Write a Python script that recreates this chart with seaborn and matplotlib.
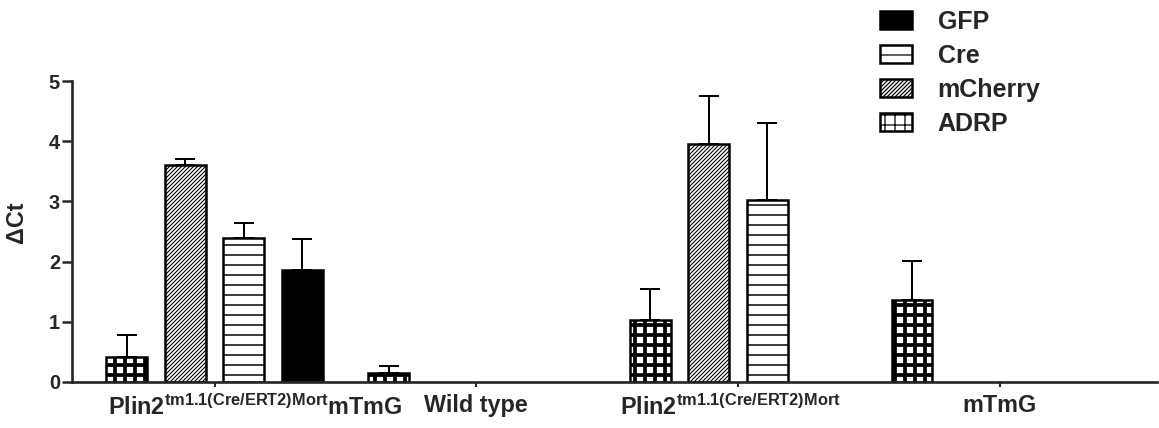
import numpy as np
import pandas as pd
import matplotlib
matplotlib.use("Agg")
import matplotlib.pyplot as plt
import matplotlib.transforms as mtransforms
import seaborn as sns

# categories on the x axis (two transgenic lines, wild type and reporter alone)
categories = [
    r"$\mathrm{Plin2}^{\mathrm{tm1.1(Cre/ERT2)Mort}}\mathrm{mTmG}$",
    "Wild type",
    r"$\mathrm{Plin2}^{\mathrm{tm1.1(Cre/ERT2)Mort}}$",
    "mTmG",
]
genes = ["ADRP", "mCherry", "Cre", "GFP"]
legend_order = ["GFP", "Cre", "mCherry", "ADRP"]

# delta Ct, mean and upper error (NaN = not measured)
adrp_mean = [0.42, 0.15, 1.03, 1.36]
adrp_err = [0.36, 0.11, 0.51, 0.65]
mcherry_mean = [3.60, np.nan, 3.95, np.nan]
mcherry_err = [0.10, np.nan, 0.80, np.nan]
cre_mean = [2.40, np.nan, 3.02, np.nan]
cre_err = [0.24, np.nan, 1.28, np.nan]
gfp_mean = [1.86, np.nan, np.nan, np.nan]
gfp_err = [0.52, np.nan, np.nan, np.nan]

palette = {"ADRP": "white", "mCherry": "white", "Cre": "white", "GFP": "black"}
hatches = {"ADRP": "+", "mCherry": "/////", "Cre": "-", "GFP": ""}
hatch_lw = {"ADRP": 4.5, "mCherry": 1.3, "Cre": 1.8, "GFP": 1.0}


def build_frame():
    rows = []
    series = zip(genes,
                 [adrp_mean, mcherry_mean, cre_mean, gfp_mean],
                 [adrp_err, mcherry_err, cre_err, gfp_err])
    for gene, means, errs in series:
        for cat, m, e in zip(categories, means, errs):
            rows.append({"group": cat, "gene": gene, "value": m, "err": e})
    return pd.DataFrame(rows).dropna().reset_index(drop=True)


def main():
    sns.set_style("ticks")
    plt.rcParams["font.family"] = ["Liberation Sans", "DejaVu Sans"]
    plt.rcParams["font.weight"] = "bold"
    plt.rcParams["axes.labelweight"] = "bold"
    plt.rcParams["mathtext.fontset"] = "custom"
    plt.rcParams["mathtext.rm"] = "Liberation Sans:bold"
    plt.rcParams["mathtext.it"] = "Liberation Sans:bold"
    plt.rcParams["mathtext.bf"] = "Liberation Sans:bold"
    plt.rcParams["mathtext.sf"] = "Liberation Sans:bold"
    plt.rcParams["hatch.color"] = "black"
    plt.rcParams["hatch.linewidth"] = 1.5

    df = build_frame()

    dpi = 60
    fig = plt.figure(figsize=(1159 / dpi, 428 / dpi), dpi=dpi)
    ax = fig.add_axes([0.0621, 0.1075, 0.936, 0.7032])

    sns.barplot(data=df, x="group", y="value", hue="gene", order=categories,
                hue_order=genes, palette=palette, width=0.894, gap=0.3,
                errorbar=None, edgecolor="black", linewidth=3, saturation=1,
                legend=False, ax=ax)

    # hatching + one-sided error bars
    xs, ys, es = [], [], []
    for gene, cont in zip(genes, ax.containers):
        sub = df[df["gene"] == gene].set_index("group")
        for bar in cont:
            bar.set_hatch(hatches[gene])
            if hasattr(bar, "set_hatch_linewidth"):
                bar.set_hatch_linewidth(hatch_lw[gene])
            else:
                bar._hatch_linewidth = hatch_lw[gene]
            xc = bar.get_x() + bar.get_width() / 2
            cat = categories[int(round(xc))]
            xs.append(xc)
            ys.append(bar.get_height())
            es.append(sub.loc[cat, "err"])
    ax.errorbar(xs, ys, yerr=[np.zeros(len(es)), es], fmt="none", ecolor="black",
                elinewidth=2.4, capsize=12, capthick=2.4, zorder=1)

    ax.set_xlim(-0.545, 3.60)
    ax.set_ylim(0, 5)
    ax.set_yticks(range(6))
    ax.set_xlabel("")
    ax.set_ylabel("ΔCt", fontsize=28)
    ax.yaxis.set_label_coords(-0.0405, 0.53)
    sns.despine(ax=ax)
    for side in ["left", "bottom"]:
        ax.spines[side].set_linewidth(3.2)
    ax.tick_params(axis="y", length=12, width=3, pad=2.4, labelsize=24)
    ax.tick_params(axis="x", length=6, width=2.5, pad=8.5, labelsize=28)

    first = ax.get_xticklabels()[0]
    first.set_transform(first.get_transform()
                        + mtransforms.ScaledTranslation(40 / dpi, 0, fig.dpi_scale_trans))
    third = ax.get_xticklabels()[2]
    third.set_transform(third.get_transform()
                        + mtransforms.ScaledTranslation(-8 / dpi, 0, fig.dpi_scale_trans))

    handles = [ax.containers[genes.index(g)] for g in legend_order]
    fig.legend(handles, legend_order, loc="upper left", bbox_to_anchor=(0.759, 0.977),
               bbox_transform=fig.transFigure, frameon=False, fontsize=30,
               handlelength=1.28, handleheight=0.72, handletextpad=1.04,
               labelspacing=0.40, borderpad=0, borderaxespad=0)

    fig.savefig("out.png", dpi=dpi)


if __name__ == "__main__":
    main()
